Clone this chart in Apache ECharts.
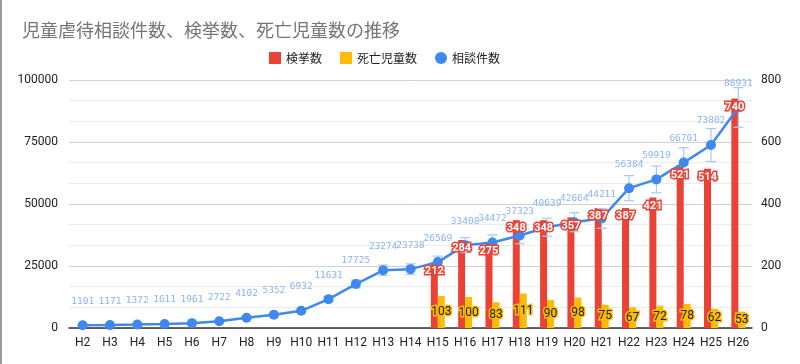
<!DOCTYPE html>
<html><head><meta charset="utf-8">
<script src="https://cdn.jsdelivr.net/npm/echarts@6/dist/echarts.min.js"></script>
<style>html,body{margin:0;padding:0;background:#fff}#c{width:800px;height:364px}</style>
</head><body><div id="c"></div>
<script>
const categories = ['H2','H3','H4','H5','H6','H7','H8','H9','H10','H11','H12','H13','H14','H15','H16','H17','H18','H19','H20','H21','H22','H23','H24','H25','H26'];
const consultations = [1101,1171,1372,1611,1961,2722,4102,5352,6932,11631,17725,23274,23738,26569,33408,34472,37323,40639,42664,44211,56384,59919,66701,73802,88931];
const arrests = [null,null,null,null,null,null,null,null,null,null,null,null,null,212,284,275,348,348,357,387,387,421,521,514,740];
const deaths = [null,null,null,null,null,null,null,null,null,null,null,null,null,103,100,83,111,90,98,75,67,72,78,62,53];
const errorPct = 0.09;
const leftTicks = [0,25000,50000,75000,100000];
const rightTicks = [0,200,400,600,800];

const BAR_W = 7;
const chart = echarts.init(document.getElementById('c'));
const errData = consultations.map((v,i)=>[i, v*(1-errorPct), v*(1+errorPct)]);
const labelData = categories.map((c,i)=>[i, arrests[i]==null?'-':arrests[i], deaths[i]==null?'-':deaths[i]]).filter((d,i)=>arrests[i]!=null);
chart.setOption({
  animation:false,
  title:{text:'児童虐待相談件数、検挙数、死亡児童数の推移',left:17,top:16,
    textStyle:{color:'#757575',fontSize:18,fontWeight:'normal',fontFamily:'Noto Sans CJK JP'}},
  legend:{left:264,top:47,itemWidth:12,itemHeight:12,itemGap:18,
    textStyle:{color:'#222',fontSize:12,fontFamily:'Noto Sans CJK JP'},
    data:[{name:'検挙数',icon:'rect'},{name:'死亡児童数',icon:'rect'},{name:'相談件数',icon:'circle'}]},
  graphic:[{type:'rect',left:0,top:0,shape:{width:2,height:364},style:{fill:'#999'},silent:true}],
  grid:{left:69,right:48,top:80,bottom:36,containLabel:false},
  xAxis:{type:'category',data:categories,
    axisLine:{lineStyle:{color:'#333',width:1.5}},axisTick:{show:false},
    axisLabel:{color:'#222',fontSize:12,fontFamily:'Roboto',margin:9,interval:0}},
  yAxis:[
    {type:'value',min:0,max:leftTicks[leftTicks.length-1],interval:25000,
     axisLine:{show:false},axisTick:{show:false},
     axisLabel:{color:'#222',fontSize:12,fontFamily:'Roboto',margin:11,formatter:v=>String(v)},
     splitLine:{lineStyle:{color:'#d0d0d0',width:1}},
     minorTick:{show:false,splitNumber:3},
     minorSplitLine:{show:true,lineStyle:{color:'#ececec',width:1}}},
    {type:'value',min:0,max:rightTicks[rightTicks.length-1],interval:200,
     axisLine:{show:false},axisTick:{show:false},
     axisLabel:{color:'#222',fontSize:12,fontFamily:'Roboto',margin:9,formatter:v=>String(v)},
     splitLine:{show:false}}
  ],
  series:[
    {name:'検挙数',type:'bar',yAxisIndex:1,data:arrests,barWidth:BAR_W,barGap:'0%',
     itemStyle:{color:'#ea4335'},z:2},
    {name:'死亡児童数',type:'bar',yAxisIndex:1,data:deaths,barWidth:BAR_W,
     itemStyle:{color:'#fbbc04'},z:2},
    {name:'err',type:'custom',yAxisIndex:0,data:errData,z:3,silent:true,
     renderItem:function(params,api){
       const x=api.coord([api.value(0),api.value(1)])[0];
       const lo=api.coord([api.value(0),api.value(1)])[1];
       const hi=api.coord([api.value(0),api.value(2)])[1];
       const w=5;
       const st={stroke:'#a8c7f7',lineWidth:1.2};
       return {type:'group',children:[
         {type:'line',shape:{x1:x,y1:lo,x2:x,y2:hi},style:st},
         {type:'line',shape:{x1:x-w,y1:lo,x2:x+w,y2:lo},style:st},
         {type:'line',shape:{x1:x-w,y1:hi,x2:x+w,y2:hi},style:st}
       ]};
     }},
    {name:'相談件数',type:'line',yAxisIndex:0,data:consultations,z:4,
     symbol:'circle',symbolSize:10,
     lineStyle:{color:'#3e88f0',width:2.5},itemStyle:{color:'#3e88f0'},
     label:{show:true,position:'top',distance:14,color:'#8ab4f8',fontSize:9.5,
       fontFamily:'DejaVu Sans Mono'}},
    {name:'barLabels',type:'custom',yAxisIndex:1,data:labelData,z:10,silent:true,
     renderItem:function(params,api){
       const i=api.value(0), a=api.value(1), d=api.value(2);
       const pa=api.coord([i,a]);
       const pd=api.coord([i,d]);
       const p0=api.coord([i,0]);
       return {type:'group',children:[
         {type:'text',x:pa[0]-BAR_W/2,y:pa[1]+3,style:{text:String(a),fill:'#fff',
           font:'bold 11px Roboto',align:'center',verticalAlign:'top',
           stroke:'#ea4335',lineWidth:3}},
         {type:'text',x:pd[0]+BAR_W/2,y:(pd[1]+p0[1])/2,style:{text:String(d),fill:'#222',
           font:'12px Roboto',align:'center',verticalAlign:'middle',
           stroke:'#fbbc04',lineWidth:3}}
       ]};
     }}
  ]
});
</script></body></html>
